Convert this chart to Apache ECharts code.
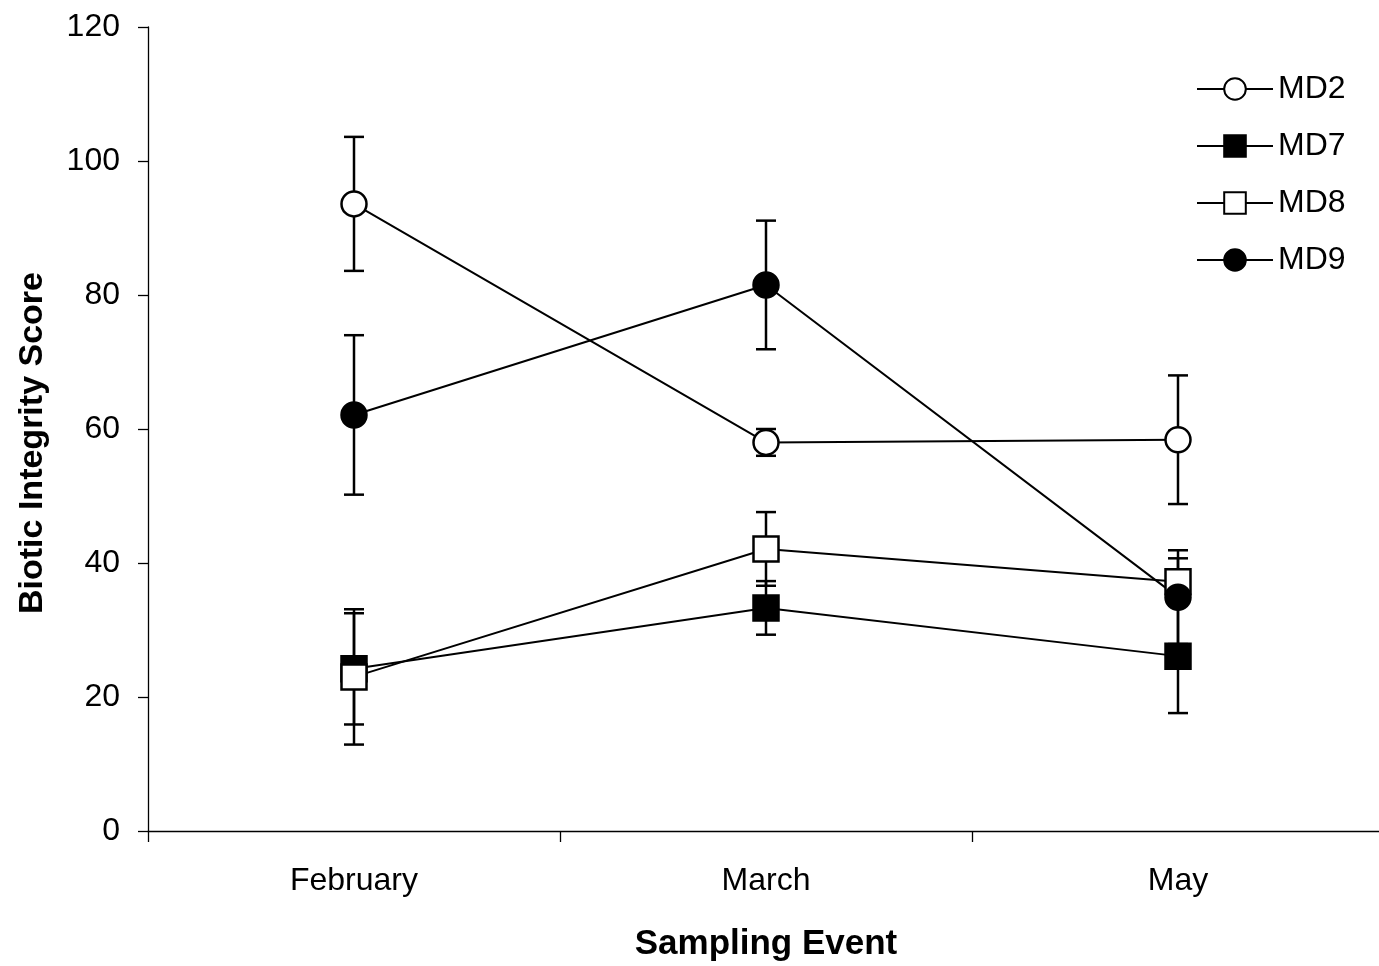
<!DOCTYPE html>
<html>
<head>
<meta charset="utf-8">
<script src="https://cdn.jsdelivr.net/npm/echarts@6/dist/echarts.min.js"></script>
<style>html,body{margin:0;padding:0;background:#fff}#c{width:1379px;height:966px}</style>
</head>
<body>
<div id="c"></div>
<script>
const categories = ['February', 'March', 'May'];
const md2 = [93.6, 58.0, 58.4];
const md2Err = [10, 2, 9.6];
const md7 = [24.2, 33.3, 26.1];
const md7Err = [8.3, 4, 8.5];
const md8 = [23.0, 42.1, 37.2];
const md8Err = [10.1, 5.5, 3.5];
const md9 = [62.1, 81.5, 34.9];
const md9Err = [11.9, 9.6, 7];
const yTicks = [0, 20, 40, 60, 80, 100, 120];
const yTitle = 'Biotic Integrity Score';
const xTitle = 'Sampling Event';

const FONT = 'Arial, "Liberation Sans", sans-serif';

function errData(vals, errs) {
  return vals.map((v, i) => [i, v - errs[i], v + errs[i]]);
}
function errSeries(vals, errs) {
  return {
    type: 'custom',
    silent: true,
    z: 1,
    data: errData(vals, errs),
    renderItem: function (params, api) {
      const lo = api.coord([api.value(0), api.value(1)]);
      const hi = api.coord([api.value(0), api.value(2)]);
      const hw = 10;
      const st = { stroke: '#000', lineWidth: 2.5 };
      return {
        type: 'group',
        children: [
          { type: 'line', shape: { x1: lo[0], y1: lo[1], x2: hi[0], y2: hi[1] }, style: st },
          { type: 'line', shape: { x1: hi[0] - hw, y1: hi[1], x2: hi[0] + hw, y2: hi[1] }, style: st },
          { type: 'line', shape: { x1: lo[0] - hw, y1: lo[1], x2: lo[0] + hw, y2: lo[1] }, style: st }
        ]
      };
    }
  };
}
function lineSeries(name, vals, symbol, fill, size) {
  return {
    name: name,
    type: 'line',
    z: 3,
    data: vals,
    symbol: symbol,
    symbolSize: size,
    showAllSymbol: true,
    lineStyle: { color: '#000', width: 2 },
    itemStyle: { color: fill, borderColor: '#000', borderWidth: 2.5 },
    emphasis: { disabled: true },
    animation: false
  };
}

const chart = echarts.init(document.getElementById('c'));
chart.setOption({
  animation: false,
  backgroundColor: '#fff',
  textStyle: { fontFamily: FONT },
  grid: { left: 148, top: 27, bottom: 135, right: -5, outerBoundsMode: 'none', containLabel: false },
  graphic: [{
    type: 'text',
    x: 33,
    y: 443,
    rotation: Math.PI / 2,
    style: {
      text: yTitle,
      fontSize: 34,
      fontWeight: 'bold',
      fill: '#000',
      fontFamily: FONT,
      textAlign: 'center',
      textVerticalAlign: 'middle',
      verticalAlign: 'middle'
    }
  }],
  legend: {
    data: ['MD2', 'MD7', 'MD8', 'MD9'],
    orient: 'vertical',
    left: 1191,
    top: 68,
    itemWidth: 76,
    itemHeight: 27,
    itemGap: 25,
    textStyle: { fontSize: 32, color: '#000', fontFamily: FONT },
    selectedMode: false
  },
  xAxis: {
    type: 'category',
    data: categories,
    boundaryGap: true,
    name: xTitle,
    nameLocation: 'middle',
    nameGap: 96,
    nameTextStyle: { fontSize: 35, fontWeight: 'bold', color: '#000', fontFamily: FONT },
    axisLine: { show: true, lineStyle: { color: '#000', width: 1.3 } },
    axisTick: { show: true, alignWithLabel: false, length: 11, lineStyle: { color: '#000', width: 1.3 } },
    axisLabel: { fontSize: 32, color: '#000', margin: 34, fontFamily: FONT },
    splitLine: { show: false }
  },
  yAxis: {
    type: 'value',
    min: yTicks[0],
    max: yTicks[yTicks.length - 1],
    interval: 20,
    axisLine: { show: true, lineStyle: { color: '#000', width: 1.3 } },
    axisTick: { show: true, length: 10, lineStyle: { color: '#000', width: 1.3 } },
    axisLabel: { fontSize: 32, color: '#000', margin: 28, fontFamily: FONT },
    splitLine: { show: false }
  },
  series: [
    errSeries(md2, md2Err),
    errSeries(md7, md7Err),
    errSeries(md8, md8Err),
    errSeries(md9, md9Err),
    lineSeries('MD2', md2, 'circle', '#fff', 25),
    lineSeries('MD7', md7, 'rect', '#000', 25),
    lineSeries('MD8', md8, 'rect', '#fff', 25),
    lineSeries('MD9', md9, 'circle', '#000', 25)
  ]
});
</script>
</body>
</html>
